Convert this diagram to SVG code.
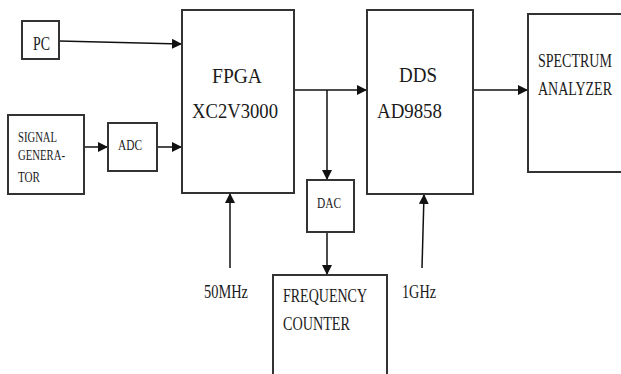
<svg xmlns="http://www.w3.org/2000/svg" width="621" height="374" viewBox="0 0 621 374">
<style>
.box{fill:#fff;stroke:#333;stroke-width:2}
.ln{fill:none;stroke:#111;stroke-width:1.5}
text{font-family:"Liberation Serif","Times New Roman",serif;fill:#1a1a1a}
.big{font-size:22px}
.mid{font-size:19px}
.sm{font-size:15px}
.sa{font-size:14px}
</style>
<defs>
<marker id="ah" markerWidth="10" markerHeight="10" refX="9" refY="5" orient="auto" markerUnits="userSpaceOnUse">
<path d="M0,0 L10,5 L0,10 Z" fill="#111"/>
</marker>
</defs>
<rect width="621" height="374" fill="#fff"/>
<g id="connectors">
<line class="ln" x1="59" y1="41" x2="181" y2="44" marker-end="url(#ah)"/>
<line class="ln" x1="84" y1="147" x2="107" y2="147" marker-end="url(#ah)"/>
<line class="ln" x1="157" y1="147" x2="181" y2="147" marker-end="url(#ah)"/>
<line class="ln" x1="294" y1="90" x2="366" y2="90" marker-end="url(#ah)"/>
<line class="ln" x1="327" y1="90" x2="327" y2="179" marker-end="url(#ah)"/>
<line class="ln" x1="473" y1="90" x2="527" y2="90" marker-end="url(#ah)"/>
<line class="ln" x1="327" y1="232" x2="327" y2="274" marker-end="url(#ah)"/>
<line class="ln" x1="230" y1="268" x2="230" y2="194" marker-end="url(#ah)"/>
<line class="ln" x1="422" y1="268" x2="424" y2="195" marker-end="url(#ah)"/>
</g>
<g id="pc">
<rect class="box" x="22" y="21" width="37" height="38"/>
<text class="mid" x="33" y="50" textLength="17" lengthAdjust="spacingAndGlyphs">PC</text>
</g>
<g id="signal-generator">
<rect class="box" x="8" y="115" width="76" height="79"/>
<text class="sm" x="18" y="142" textLength="39" lengthAdjust="spacingAndGlyphs">SIGNAL</text>
<text class="sm" x="18" y="160" textLength="47" lengthAdjust="spacingAndGlyphs">GENERA-</text>
<text class="sm" x="18" y="182" textLength="22" lengthAdjust="spacingAndGlyphs">TOR</text>
</g>
<g id="adc">
<rect class="box" x="108" y="123" width="49" height="48"/>
<text class="sm" x="118" y="150" textLength="24" lengthAdjust="spacingAndGlyphs">ADC</text>
</g>
<g id="fpga">
<rect class="box" x="182" y="10" width="112" height="183"/>
<text class="big" x="212" y="83" textLength="50" lengthAdjust="spacingAndGlyphs">FPGA</text>
<text class="big" x="192" y="118" textLength="86" lengthAdjust="spacingAndGlyphs">XC2V3000</text>
</g>
<g id="dds">
<rect class="box" x="367" y="10" width="106" height="184"/>
<text class="big" x="399" y="82" textLength="38" lengthAdjust="spacingAndGlyphs">DDS</text>
<text class="big" x="377" y="118" textLength="65" lengthAdjust="spacingAndGlyphs">AD9858</text>
</g>
<g id="spectrum-analyzer">
<rect class="box" x="528" y="14" width="100" height="158"/>
<text class="sa" transform="translate(538,67) scale(1,1.4)">SPECTRUM</text>
<text class="sa" transform="translate(538,95) scale(1,1.4)">ANALYZER</text>
</g>
<g id="dac">
<rect class="box" x="307" y="180" width="47" height="52"/>
<text class="sm" x="317" y="208" textLength="24" lengthAdjust="spacingAndGlyphs">DAC</text>
</g>
<g id="frequency-counter">
<rect class="box" x="273" y="275" width="114" height="110"/>
<text class="mid" x="283" y="302" textLength="84" lengthAdjust="spacingAndGlyphs">FREQUENCY</text>
<text class="mid" x="283" y="330" textLength="67" lengthAdjust="spacingAndGlyphs">COUNTER</text>
</g>
<g id="clk50">
<text class="mid" x="204" y="298" textLength="44" lengthAdjust="spacingAndGlyphs">50MHz</text>
</g>
<g id="clk1g">
<text class="mid" x="402" y="298" textLength="34" lengthAdjust="spacingAndGlyphs">1GHz</text>
</g>
</svg>
